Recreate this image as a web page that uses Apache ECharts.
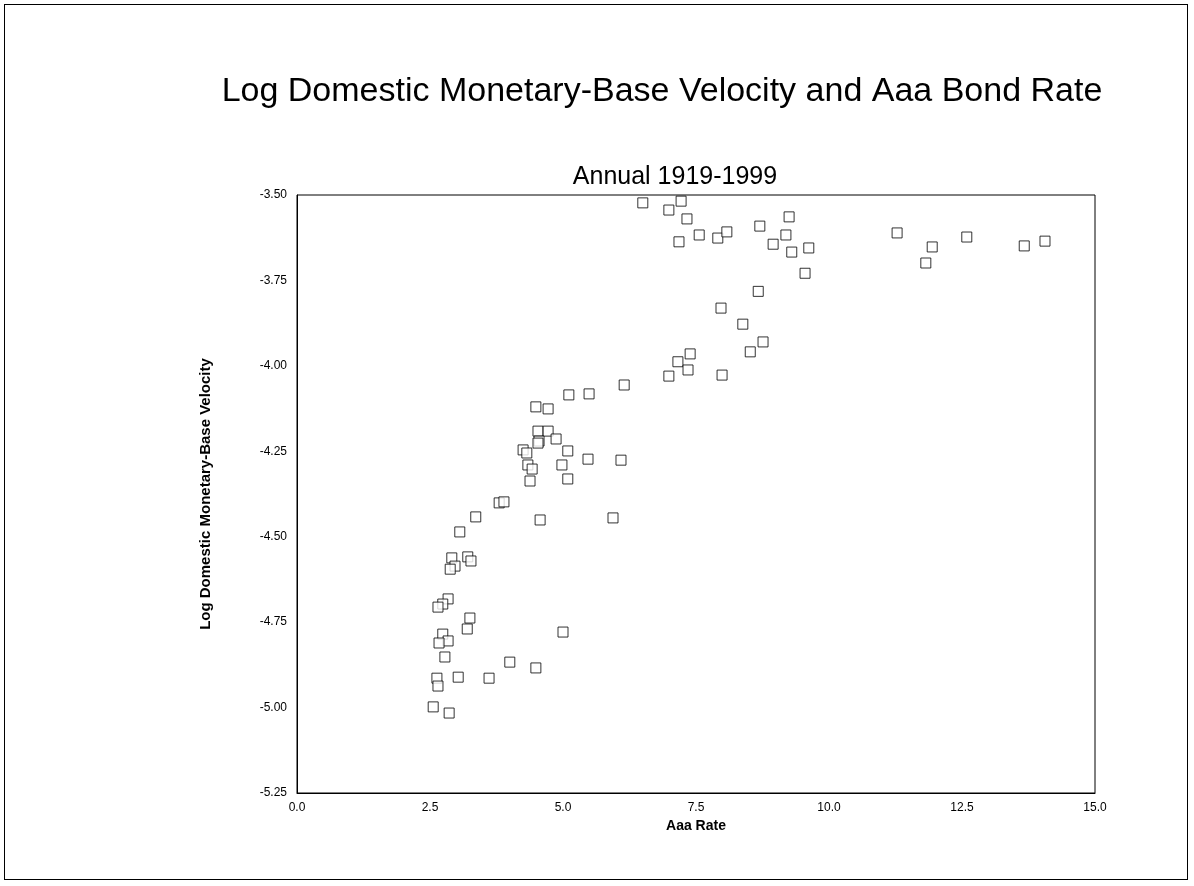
<!DOCTYPE html>
<html><head><meta charset="utf-8">
<script src="https://cdn.jsdelivr.net/npm/echarts@6/dist/echarts.min.js"></script>
<style>html,body{margin:0;padding:0;background:#fff}#c{width:1194px;height:886px}
#f{position:absolute;left:4px;top:4px;width:1184px;height:876px;border:1px solid #000;box-sizing:border-box;pointer-events:none}</style>
</head><body><div id="c"></div><div id="f"></div>
<script>
const aaaRate = [6.50,7.22,6.99,7.33,7.56,7.18,7.91,8.08,8.70,9.25,9.19,8.95,9.30,9.62,9.55,8.67,7.97,8.38,8.76,8.52,7.39,7.16,7.35,6.99,7.99,6.15,
5.11,5.49,4.49,4.72,4.53,4.72,4.87,4.55,4.53,4.25,4.32,5.09,5.47,6.09,4.34,4.42,4.98,5.09,4.38,3.80,3.89,3.36,4.57,5.94,3.06,2.91,3.21,3.27,2.97,2.88,2.84,2.74,2.65,3.25,3.20,5.00,2.74,2.84,2.67,2.78,4.00,4.49,2.63,3.03,3.61,2.65,2.56,2.86,
14.06,13.67,12.59,11.94,11.82,11.28];
const logVelocity = [-3.523,-3.518,-3.544,-3.570,-3.617,-3.637,-3.626,-3.608,-3.591,-3.564,-3.617,-3.644,-3.667,-3.655,-3.729,-3.782,-3.831,-3.878,-3.930,-3.959,-3.965,-3.988,-4.012,-4.030,-4.027,-4.056,
-4.085,-4.082,-4.120,-4.126,-4.191,-4.191,-4.214,-4.220,-4.226,-4.246,-4.255,-4.249,-4.273,-4.276,-4.290,-4.302,-4.290,-4.331,-4.337,-4.401,-4.398,-4.442,-4.451,-4.445,-4.486,-4.562,-4.559,-4.571,-4.586,-4.595,-4.682,-4.697,-4.706,-4.738,-4.770,-4.779,-4.785,-4.805,-4.811,-4.852,-4.867,-4.884,-4.914,-4.911,-4.914,-4.937,-4.998,-5.016,
-3.635,-3.649,-3.623,-3.652,-3.699,-3.611];
const pts = aaaRate.map((x,i)=>[x,logVelocity[i]]);
const F='"Liberation Sans", Arial, sans-serif';
const ch = echarts.init(document.getElementById('c'));
ch.setOption({
  animation:false,
  title:[{text:'Log Domestic Monetary-Base Velocity and Aaa Bond Rate',left:657,top:70,textAlign:'center',textStyle:{fontFamily:F,fontSize:34,fontWeight:'normal',color:'#000'}},
         {text:'Annual 1919-1999',left:670,top:160,textAlign:'center',textStyle:{fontFamily:F,fontSize:25,fontWeight:'normal',color:'#000'}}],
  grid:{left:297,right:99,top:195,bottom:93,show:true,borderColor:'#000',borderWidth:1},
  xAxis:{type:'value',min:0,max:15,interval:2.5,name:'Aaa Rate',nameLocation:'middle',nameGap:20,
    nameTextStyle:{fontFamily:F,fontSize:14,fontWeight:'bold',color:'#000'},
    axisLine:{show:true,lineStyle:{color:'#000'}},axisTick:{show:false},splitLine:{show:false},
    axisLabel:{fontFamily:F,fontSize:12,color:'#000',margin:9,formatter:v=>v.toFixed(1)}},
  yAxis:{type:'value',min:-5.25,max:-3.5,interval:0.25,name:'Log Domestic Monetary-Base Velocity',nameLocation:'middle',nameGap:84,
    nameTextStyle:{fontFamily:F,fontSize:15,fontWeight:'bold',color:'#000'},
    axisLine:{show:true,lineStyle:{color:'#000'}},axisTick:{show:false},splitLine:{show:false},
    axisLabel:{fontFamily:F,fontSize:12,color:'#000',margin:10,formatter:v=>v.toFixed(2)}},
  series:[{type:'scatter',data:pts,symbol:'rect',symbolSize:10,
    itemStyle:{color:'#fff',borderColor:'#000',borderWidth:1}}]
});
</script></body></html>
